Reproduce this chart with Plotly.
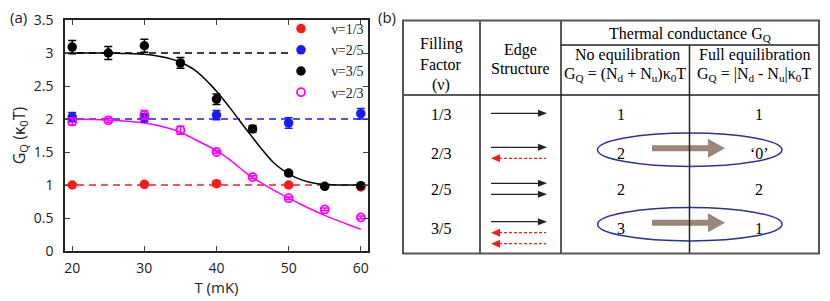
import plotly.graph_objects as go

# page body has an 8px margin, so the figure is drawn 8px in from the window corner
OFF = 8
W, H = 830 - OFF, 301 - OFF

# ---------------- data: panel (a) ----------------
T_red = [20, 30, 40, 50, 60]
G_red = [1.00, 1.01, 1.02, 1.00, 0.97]
E_red = [0.02, 0.02, 0.04, 0.03, 0.03]

T_blue = [20, 30, 40, 50, 60]
G_blue = [2.03, 2.02, 2.06, 1.94, 2.08]
E_blue = [0.07, 0.06, 0.07, 0.08, 0.08]

T_black = [20, 25, 30, 35, 40, 45, 50, 55, 60]
G_black = [3.09, 3.00, 3.11, 2.85, 2.30, 1.85, 1.18, 0.98, 0.99]
E_black = [0.10, 0.10, 0.10, 0.08, 0.08, 0.05, 0.03, 0.02, 0.02]

T_mag = [20, 25, 30, 35, 40, 45, 50, 55, 60]
G_mag = [1.96, 1.98, 2.06, 1.83, 1.50, 1.12, 0.80, 0.63, 0.51]
E_mag = [0.05, 0.03, 0.07, 0.06, 0.02, 0.02, 0.02, 0.02, 0.02]

# fitted curves
T_fit_black = [20, 25, 28, 30, 32, 34, 35, 37, 39, 40, 42, 44, 45, 46, 48, 50, 52, 54, 56, 58, 60]
G_fit_black = [3.00, 3.00, 2.99, 2.98, 2.95, 2.90, 2.86, 2.74, 2.54, 2.42, 2.15, 1.86, 1.72, 1.58, 1.33, 1.17, 1.07, 1.02, 1.005, 1.0, 1.0]
T_fit_mag = [20, 25, 30, 33, 35, 37, 40, 42, 44, 45, 47, 50, 52, 55, 58, 60]
G_fit_mag = [2.00, 1.985, 1.94, 1.87, 1.80, 1.69, 1.52, 1.37, 1.19, 1.11, 0.98, 0.80, 0.69, 0.54, 0.41, 0.33]

# quantized reference levels
T_ref = [19, 61]
T_ref_black = [19, 50]
G_ref = {"red": 1, "blue": 2, "black": 3}

labels = ["ν=1/3", "ν=2/5", "ν=3/5", "ν=2/3"]
x_ticks = [20, 30, 40, 50, 60]
y_ticks = [0, 0.5, 1, 1.5, 2, 2.5, 3, 3.5]
y_ticktext = ["0", "0.5", "1", "1.5", "2", "2.5", "3", "3.5"]

# ---------------- data: panel (b) ----------------
filling = ["1/3", "2/3", "2/5", "3/5"]
n_down = [1, 1, 2, 1]
n_up = [0, 1, 0, 2]
no_eq = ["1", "2", "2", "3"]
full_eq = ["1", "‘0’", "2", "1"]

RED = "#ff1a1a"
BLUE = "#1a1aff"
MAG = "#ff00ff"

fig = go.Figure()

def px(x):
    return (x - OFF) / W

def py(y):
    return 1 - (y - OFF) / H

# reference dashed lines
fig.add_trace(go.Scatter(x=T_ref, y=[G_ref["red"]] * 2, mode="lines", showlegend=False,
                         line=dict(color=RED, width=1.5, dash="7px,5px")))
fig.add_trace(go.Scatter(x=T_ref, y=[G_ref["blue"]] * 2, mode="lines", showlegend=False,
                         line=dict(color=BLUE, width=1.5, dash="7px,5px")))
fig.add_trace(go.Scatter(x=T_ref_black, y=[G_ref["black"]] * 2, mode="lines", showlegend=False,
                         line=dict(color="black", width=1.5, dash="7px,5px")))
# fits
fig.add_trace(go.Scatter(x=T_fit_black, y=G_fit_black, mode="lines", line_shape="spline",
                         showlegend=False, line=dict(color="black", width=1.5)))
fig.add_trace(go.Scatter(x=T_fit_mag, y=G_fit_mag, mode="lines", line_shape="spline",
                         showlegend=False, line=dict(color=MAG, width=1.5)))

def pts(x, y, e, color, name, symbol="circle"):
    mk = dict(color=color, size=9.5, symbol=symbol)
    if symbol == "circle-open":
        mk = dict(color=color, size=8, symbol=symbol, line=dict(width=1.8, color=color))
    fig.add_trace(go.Scatter(x=x, y=y, mode="markers", name="\u00a0" * 3 + name, marker=mk,
                             error_y=dict(type="data", array=e, color=color, thickness=1.5, width=4)))

pts(T_red, G_red, E_red, RED, labels[0])
pts(T_blue, G_blue, E_blue, BLUE, labels[1])
pts(T_black, G_black, E_black, "black", labels[2])
pts(T_mag, G_mag, E_mag, MAG, labels[3], symbol="circle-open")

sans = "Open Sans"
serif = "Liberation Serif"

fig.update_layout(
    template="none",
    width=W, height=H, margin=dict(l=0, r=0, t=0, b=0, autoexpand=False),
    paper_bgcolor="white", plot_bgcolor="white",
    xaxis=dict(domain=[px(65), px(368)], range=[19, 61], tickvals=x_ticks, automargin=False,
               ticks="inside", ticklen=5, tickwidth=1.2, mirror="ticks", showline=True,
               linecolor="#222", linewidth=1.5, showgrid=False, zeroline=False, ticklabelstandoff=3,
               tickfont=dict(family=sans, size=14, color="#222"),
               title=dict(text="T (mK)", font=dict(family=sans, size=15, color="#222"), standoff=5)),
    yaxis=dict(domain=[py(251), py(20)], range=[0, 3.5], tickvals=y_ticks, ticktext=y_ticktext,
               automargin=False, ticklabelstandoff=7,
               ticks="inside", ticklen=5, tickwidth=1.2, mirror="ticks", showline=True,
               linecolor="#222", linewidth=1.5, showgrid=False, zeroline=False,
               tickfont=dict(family=sans, size=14, color="#222"),
               title=dict(text="G<sub>Q</sub> (κ<sub>0</sub>T)", font=dict(family=sans, size=16, color="#222"), standoff=5)),
    legend=dict(x=px(281), y=py(13), xanchor="left", yanchor="top", bgcolor="rgba(0,0,0,0)",
                font=dict(family=serif, size=14, color="#222"), tracegroupgap=0, itemwidth=30),
    showlegend=True,
)

ann = []
shapes = []

def label(s, x, y):
    ann.append(dict(text=s, x=px(x), y=py(y), xref="paper", yref="paper", showarrow=False,
                    xanchor="center", yanchor="middle",
                    font=dict(family=sans, size=15, color="#222")))

label("(a)", 18, 17)
label("(b)", 387, 17)

def text(s, x, y, size=16):
    ann.append(dict(text=s, x=px(x), y=py(y + 1.5), xref="paper", yref="paper", showarrow=False,
                    xanchor="center", yanchor="middle",
                    font=dict(family=serif, size=size, color="black")))

def line(x0, y0, x1, y1, color="#222", width=1.5, dash=None):
    d = dict(type="line", xref="paper", yref="paper", x0=px(x0), y0=py(y0), x1=px(x1), y1=py(y1),
             line=dict(color=color, width=width))
    if dash:
        d["line"]["dash"] = dash
    shapes.append(d)

def poly(points, color):
    path = "M " + " L ".join(f"{px(a):.5f},{py(b):.5f}" for a, b in points) + " Z"
    shapes.append(dict(type="path", xref="paper", yref="paper", path=path,
                       fillcolor=color, line=dict(color=color, width=0)))

# header texts
text("Filling", 441, 43)
text("Factor", 441, 63)
text("(ν)", 441, 83)
text("Edge", 520, 48)
text("Structure", 520, 67)
text("Thermal conductance G<sub>Q</sub>", 690, 33)
text("No equilibration", 627, 54)
text("G<sub>Q</sub> = (N<sub>d</sub> + N<sub>u</sub>)κ<sub>0</sub>T", 625, 73)
text("Full equilibration", 755, 54)
text("G<sub>Q</sub> = |N<sub>d</sub> - N<sub>u</sub>|κ<sub>0</sub>T", 754, 73)

row_c = [113.3, 152.3, 188.3, 226.7]
for i, f in enumerate(filling):
    yc = row_c[i]
    text(f, 441, yc)
    text(no_eq[i], 621, yc)
    text(full_eq[i], 759, yc)
    n = n_down[i] + n_up[i]
    y = yc - (5 if n > 1 else 0)
    for k in range(n_down[i]):
        line(491, y, 540, y, color="#222", width=1.2)
        poly([(538, y - 3.5), (547, y), (538, y + 3.5)], "#222")
        y += 11
    for k in range(n_up[i]):
        line(499, y, 546, y, color=RED, width=1.2, dash="3px,2px")
        poly([(500, y - 4), (491, y), (500, y + 4)], RED)
        y += 11
    if no_eq[i] != full_eq[i]:
        ye = yc - 2.5
        shapes.append(dict(type="circle", xref="paper", yref="paper",
                           x0=px(597.5), x1=px(782), y0=py(ye - 16.7), y1=py(ye + 16.7),
                           line=dict(color="#2b3290", width=1.5)))
        ya = yc - 4
        poly([(652, ya - 3), (708, ya - 3), (708, ya - 9.5), (725, ya), (708, ya + 9.5),
              (708, ya + 3), (652, ya + 3)], "#9c8679")

# table lines
line(480, 20.5, 480, 253.5)
line(561, 20.5, 561, 253.5)
line(689.5, 45, 689.5, 253.5)
line(561, 45, 819, 45)
line(403, 95, 819, 95)
shapes.append(dict(type="rect", xref="paper", yref="paper", x0=px(403), x1=px(819),
                   y0=py(253.5), y1=py(20.5), line=dict(color="#555", width=2)))

fig.update_layout(annotations=ann, shapes=shapes)
fig.write_html("out.html")
